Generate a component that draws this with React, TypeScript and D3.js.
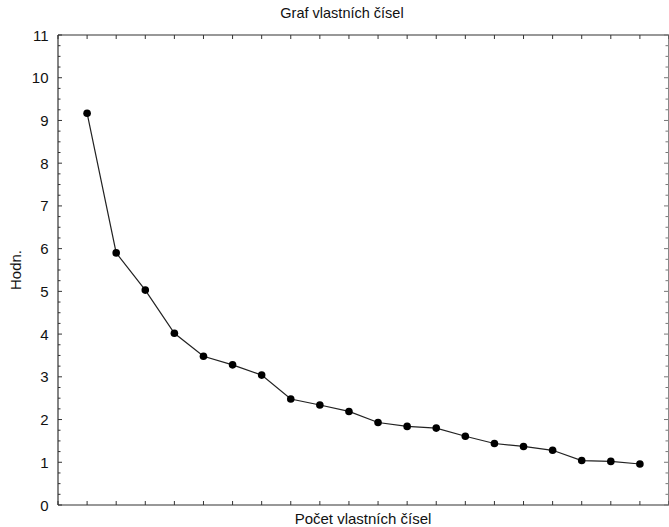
import React from "react";
import * as d3 from "d3";

const counts = [1, 2, 3, 4, 5, 6, 7, 8, 9, 10, 11, 12, 13, 14, 15, 16, 17, 18, 19, 20];
const eigenvalues = [9.17, 5.9, 5.03, 4.02, 3.48, 3.28, 3.04, 2.48, 2.34, 2.19, 1.93, 1.84, 1.8, 1.61, 1.44, 1.37, 1.28, 1.04, 1.02, 0.96];
const yTicks = [0, 1, 2, 3, 4, 5, 6, 7, 8, 9, 10, 11];
const xTicks = d3.range(0, 22);
const title = "Graf vlastních čísel";
const xTitle = "Počet vlastních čísel";
const yTitle = "Hodn.";

const W = 669;
const H = 527;
const left = 58;
const right = 669;
const top = 35;
const bottom = 505;

export default function App() {
  const x = d3.scaleLinear().domain([0, 21]).range([left, right]);
  const y = d3.scaleLinear().domain([0, 11]).range([bottom, top]);
  const pts = counts.map((c, i) => [x(c), y(eigenvalues[i])] as [number, number]);
  const line = d3.line()(pts) || "";
  const minor = d3.range(0, 11.001, 0.25);
  const font = "'Liberation Sans', Arial, sans-serif";
  return (
    <svg width={W} height={H} style={{ position: "absolute", left: 0, top: 0, background: "#fff" }}>
      <rect x={0} y={0} width={W} height={H} fill="#fff" />
      <text x={342} y={18} textAnchor="middle" fontFamily={font} fontSize={14.5} fill="#111">{title}</text>
      {/* frame */}
      <line x1={left} y1={top} x2={right} y2={top} stroke="#333" strokeWidth={1.2} />
      <line x1={left} y1={top} x2={left} y2={bottom} stroke="#333" strokeWidth={1.2} />
      <line x1={left} y1={bottom} x2={right} y2={bottom} stroke="#333" strokeWidth={1.2} />
      <line x1={right - 0.5} y1={top} x2={right - 0.5} y2={bottom} stroke="#888" strokeWidth={1} />
      {/* y ticks */}
      {minor.map((v) => {
        const major = Math.abs(v - Math.round(v)) < 1e-6;
        return (
          <g key={"m" + v}>
            <line x1={left} x2={left + (major ? 4 : 2.5)} y1={y(v)} y2={y(v)} stroke="#333" strokeWidth={1} />
            <line x1={right - 1} x2={right - 1 - (major ? 4 : 2.5)} y1={y(v)} y2={y(v)} stroke="#777" strokeWidth={1} />
          </g>
        );
      })}
      {yTicks.map((v) => (
        <text key={"yl" + v} x={48.5} y={y(v) + 5.5} textAnchor="end" fontFamily={font} fontSize={15} fill="#111">{v}</text>
      ))}
      {/* x ticks */}
      {xTicks.map((v) => (
        <g key={"x" + v}>
          <line x1={x(v)} x2={x(v)} y1={bottom} y2={bottom - 4} stroke="#333" strokeWidth={1} />
          <line x1={x(v)} x2={x(v)} y1={top} y2={top + 4} stroke="#333" strokeWidth={1} />
        </g>
      ))}
      <path d={line} fill="none" stroke="#222" strokeWidth={1.2} />
      {pts.map((p, i) => (
        <circle key={"p" + i} cx={p[0]} cy={p[1]} r={3.8} fill="#000" />
      ))}
      <text x={363} y={524} textAnchor="middle" fontFamily={font} fontSize={15} fill="#111">{xTitle}</text>
      <text transform={`translate(21, 270) rotate(-90)`} textAnchor="middle" fontFamily={font} fontSize={15} fill="#111">{yTitle}</text>
    </svg>
  );
}
